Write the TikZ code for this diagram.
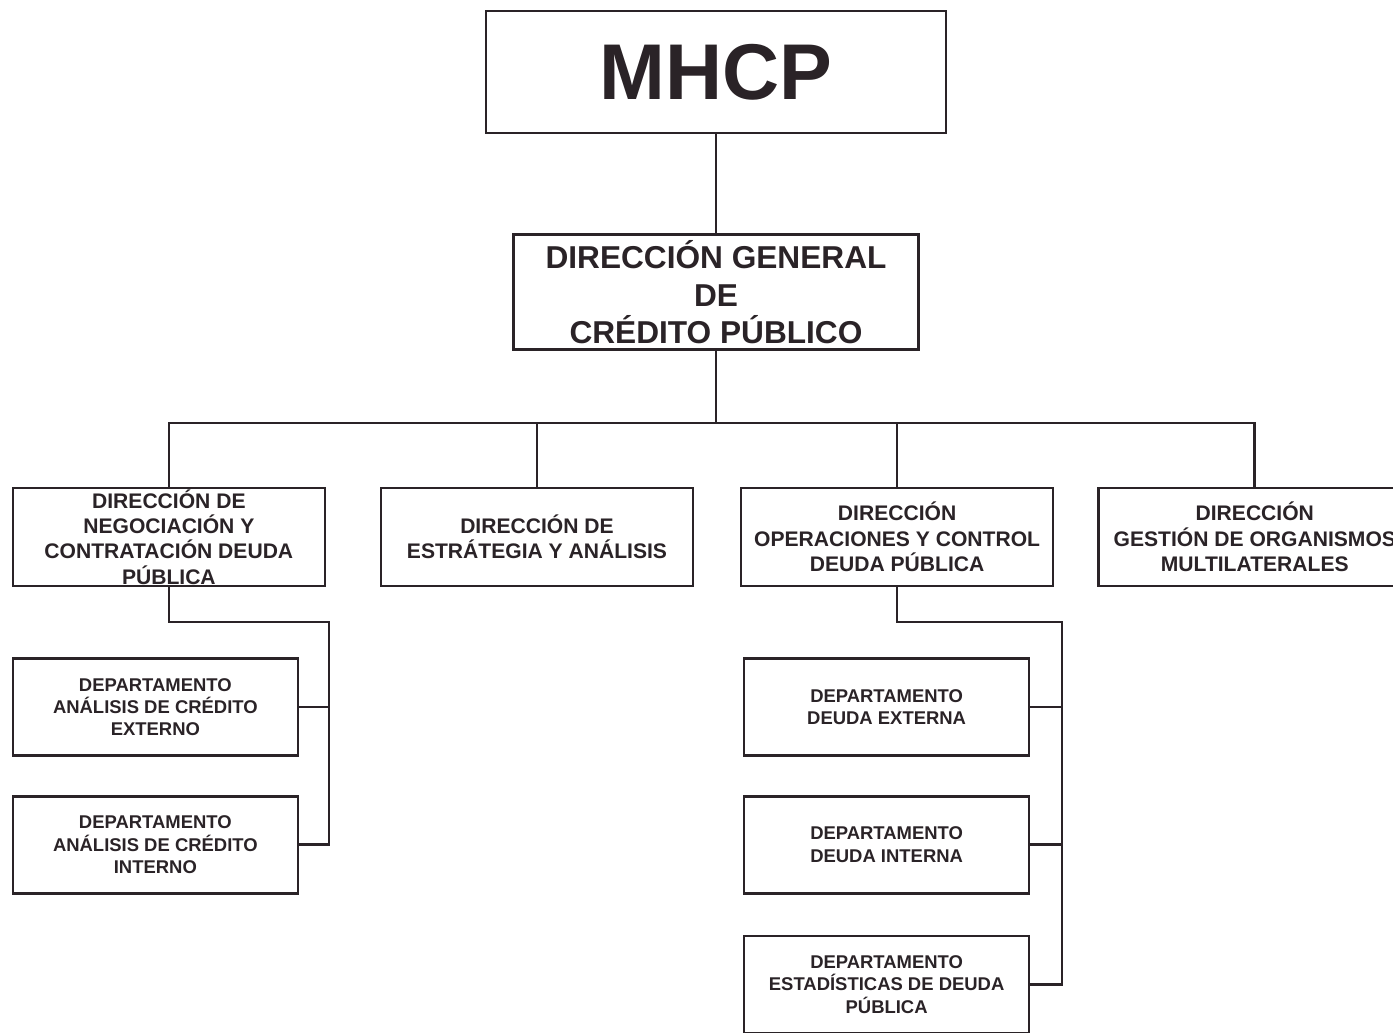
\documentclass[tikz,border=0pt]{standalone}
\usepackage{fontspec}
\setmainfont{Liberation Sans}
\usepackage{xcolor}
\usetikzlibrary{positioning}
\definecolor{ink}{HTML}{2A2327}
\begin{document}
\begin{tikzpicture}[node distance=0.3cm, auto, line width=1.5pt, draw=ink]

    % Define styles for the different levels
    \tikzstyle{top} = [draw=ink, rectangle, minimum width=9.2cm, minimum height=2.44cm, inner sep=0pt, text=ink, font=\fontsize{45}{50}\selectfont\bfseries]
    \tikzstyle{general} = [draw=ink, rectangle, minimum width=8.1cm, minimum height=2.3cm, inner sep=0pt, align=center, text=ink, font=\fontsize{18}{21.5}\selectfont\bfseries]
    \tikzstyle{direccion} = [draw=ink, rectangle, minimum width=6.24cm, minimum height=1.96cm, inner sep=0pt, align=center, text=ink, font=\fontsize{12}{14.5}\selectfont\bfseries]
    \tikzstyle{depto} = [draw=ink, rectangle, minimum width=5.7cm, minimum height=1.94cm, inner sep=0pt, align=center, text=ink, font=\fontsize{10.5}{12.75}\selectfont\bfseries]
    \tikzstyle{link} = [draw=ink, line width=1.5pt]

    \useasboundingbox (0,0) rectangle (27.86,-20.64);
    \clip (0,0) rectangle (27.86,-20.64);

    \node (mhcp) [top] at (14.32,-1.44) {MHCP};
    \node (dg) [general, below=1.98cm of mhcp] {DIRECCIÓN GENERAL\\DE\\CRÉDITO PÚBLICO};
    \node (dirEst) [direccion] at (10.74,-10.74) {DIRECCIÓN DE\\ESTRÁTEGIA Y ANÁLISIS};
    \node (dirNeg) [direccion, left=1.07cm of dirEst] {DIRECCIÓN DE\\NEGOCIACIÓN Y\\CONTRATACIÓN DEUDA\\PÚBLICA};
    \node (dirOp) [direccion, right=0.91cm of dirEst] {DIRECCIÓN\\OPERACIONES Y CONTROL\\DEUDA PÚBLICA};
    \node (dirMul) [direccion, right=0.86cm of dirOp] {DIRECCIÓN\\GESTIÓN DE ORGANISMOS\\MULTILATERALES};

    \node (depExtA) [depto, below=1.4cm of dirNeg.south west, anchor=north west] {DEPARTAMENTO\\ANÁLISIS DE CRÉDITO\\EXTERNO};
    \node (depIntA) [depto, below=0.76cm of depExtA] {DEPARTAMENTO\\ANÁLISIS DE CRÉDITO\\INTERNO};
    \node (depExt) [depto, below=1.4cm of dirOp.south west, anchor=north west, xshift=0.06cm] {DEPARTAMENTO\\DEUDA EXTERNA};
    \node (depInt) [depto, below=0.76cm of depExt] {DEPARTAMENTO\\DEUDA INTERNA};
    \node (depEst) [depto, below=0.8cm of depInt] {DEPARTAMENTO\\ESTADÍSTICAS DE DEUDA\\PÚBLICA};

    \coordinate (bus) at (14.32,-8.46);
    \coordinate (leftSpine) at (6.58,-12.44);
    \coordinate (rightSpine) at (21.24,-12.44);

    \draw[link] (mhcp) -- (dg);
    \draw[link] (dg) -- (dg |- bus);
    \draw[link] (dirNeg) |- (bus) -| (dirMul);
    \draw[link] (dirEst) -- (dirEst |- bus);
    \draw[link] (dirOp) -- (dirOp |- bus);

    \draw[link] (dirNeg) |- (leftSpine) |- (depIntA);
    \draw[link] (depExtA) -- (depExtA -| leftSpine);

    \draw[link] (dirOp) |- (rightSpine) |- (depEst);
    \draw[link] (depExt) -- (depExt -| rightSpine);
    \draw[link] (depInt) -- (depInt -| rightSpine);

\end{tikzpicture}
\end{document}
